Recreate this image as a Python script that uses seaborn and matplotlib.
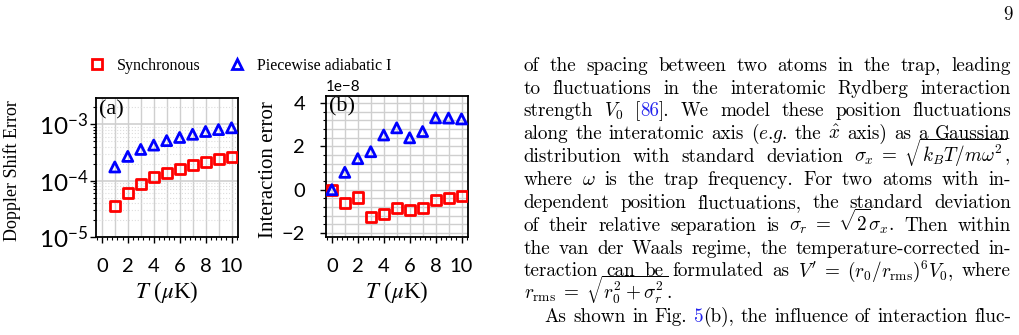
import numpy as np
import pandas as pd
import matplotlib
matplotlib.use("Agg")
import matplotlib.pyplot as plt
import matplotlib.ticker as mticker
from matplotlib.lines import Line2D
import seaborn as sns

# ---- data ----
methods = ["Synchronous", "Piecewise adiabatic I"]
colors = {"Synchronous": "#ff0000", "Piecewise adiabatic I": "#0000ff"}
markers = {"Synchronous": "s", "Piecewise adiabatic I": "^"}

T_a = [1, 2, 3, 4, 5, 6, 7, 8, 9, 10]
doppler_sync = [3.5e-5, 6.1e-5, 8.7e-5, 1.14e-4, 1.36e-4, 1.62e-4, 1.88e-4, 2.1e-4, 2.38e-4, 2.6e-4]
doppler_piece = [1.74e-4, 2.68e-4, 3.56e-4, 4.25e-4, 5.1e-4, 5.8e-4, 6.6e-4, 7.4e-4, 8.0e-4, 8.6e-4]

T_b = [0, 1, 2, 3, 4, 5, 6, 7, 8, 9, 10]
# interaction error in units of 1e-8
inter_sync = [0.0, -0.6, -0.36, -1.25, -1.12, -0.85, -0.92, -0.83, -0.46, -0.38, -0.31]
inter_piece = [0.0, 0.8, 1.43, 1.75, 2.52, 2.85, 2.39, 2.68, 3.31, 3.3, 3.26]

df_a = pd.DataFrame({
    "T": T_a + T_a,
    "err": doppler_sync + doppler_piece,
    "method": [methods[0]] * len(T_a) + [methods[1]] * len(T_a),
})
df_b = pd.DataFrame({
    "T": T_b + T_b,
    "err": list(np.array(inter_sync) * 1e-8) + list(np.array(inter_piece) * 1e-8),
    "method": [methods[0]] * len(T_b) + [methods[1]] * len(T_b),
})

W, H = 1019, 335
plt.rcParams["font.family"] = ["Lato", "DejaVu Sans"]
plt.rcParams["mathtext.fontset"] = "stix"
plt.rcParams["axes.unicode_minus"] = True

fig = plt.figure(figsize=(W / 100, H / 100), dpi=100)
ax_a = fig.add_axes([96 / W, 1 - 237 / H, 142 / W, 139 / H])
ax_b = fig.add_axes([326 / W, 1 - 237 / H, 142 / W, 141.5 / H])

serif = "Liberation Serif"
grid_c = "#cfcfcf"

for ax, df in [(ax_a, df_a), (ax_b, df_b)]:
    sns.scatterplot(data=df, x="T", y="err", hue="method", style="method",
                    palette=colors, markers=markers, s=52, linewidth=2,
                    legend=False, ax=ax, zorder=3)
    for coll in ax.collections:
        coll.set_edgecolors(coll.get_facecolors())
        coll.set_facecolor("none")
    for t in T_b:
        ax.axvline(t, color=grid_c, lw=1, zorder=0)
    ax.set_xlim(-0.45, 10.5)
    ax.xaxis.set_major_locator(mticker.MultipleLocator(2))
    ax.xaxis.set_minor_locator(mticker.AutoMinorLocator(5))
    ax.tick_params(which="major", length=4, width=1, labelsize=14.5)
    ax.tick_params(which="minor", length=2.2, width=0.8)
    ax.tick_params(axis="x", which="major", pad=11)
    for sp in ax.spines.values():
        sp.set_linewidth(1.3)
    ax.set_xlabel("$T$ ($\\mu$K)", family=serif, fontsize=16.5, math_fontfamily="stix")
    ax.xaxis.set_label_coords(0.5, -0.30)

# panel (a)
ax_a.set_yscale("log")
ax_a.set_ylim(1e-5, 2.9e-3)
ax_a.yaxis.set_major_locator(mticker.LogLocator(base=10, numticks=10))
ax_a.yaxis.set_minor_locator(mticker.LogLocator(base=10, subs=np.arange(2, 10), numticks=10))
ax_a.yaxis.set_minor_formatter(mticker.NullFormatter())
ax_a.tick_params(axis="y", which="major", labelsize=17.5, pad=1.5)
ax_a.grid(True, which="major", axis="y", color=grid_c, lw=1.2, zorder=0)
ax_a.grid(True, which="minor", axis="y", color="#dddddd", lw=0.8, ls=":", zorder=0)
ax_a.set_ylabel("Doppler Shift Error", family=serif, fontsize=13)
ax_a.yaxis.set_label_coords(-0.528, 0.48)
ax_a.text(0.02, 0.985, "(a)", transform=ax_a.transAxes, ha="left", va="top",
          family=serif, fontsize=16)

# panel (b)
ax_b.set_ylim(-2.18e-8, 4.34e-8)
ax_b.yaxis.set_major_locator(mticker.MultipleLocator(2e-8))
ax_b.yaxis.set_minor_locator(mticker.AutoMinorLocator(5))
ax_b.tick_params(axis="y", which="major", pad=11)
ax_b.grid(True, which="both", axis="y", color=grid_c, lw=1, zorder=0)
ax_b.yaxis.get_offset_text().set_fontsize(11)
ax_b.set_ylabel("Interaction error", family=serif, fontsize=15)
ax_b.yaxis.set_label_coords(-0.338, 0.48)
ax_b.text(0.02, 0.985, "(b)", transform=ax_b.transAxes, ha="left", va="top",
          family=serif, fontsize=16)

# shared legend on top
handles = [Line2D([], [], ls="", marker=markers[m], mfc="none", mec=colors[m],
                  mew=2, ms=7.5) for m in methods]
fig.legend(handles, methods, loc="center left", bbox_to_anchor=(89 / W, 1 - 66 / H),
           ncol=2, frameon=False, borderpad=0, borderaxespad=0, handlelength=1,
           handletextpad=0.75, columnspacing=1.8, prop={"family": serif, "size": 11.5})

# ---- body text of the page (justified word by word) ----
body_size = 13.8
body_kw = dict(family="cmr10", math_fontfamily="cm", fontsize=body_size,
               va="baseline", ha="left")
body_lines = [
    ("of the spacing between two atoms in the trap, leading", True, 0),
    ("to fluctuations in the interatomic Rydberg interaction", True, 0),
    ("strength $V_0$ [|86|]. We model these position fluctuations", True, 0),
    ("along the interatomic axis ($e$.$g$. the $\\hat{x}$ axis) as a Gaussian", True, 0),
    ("distribution with standard deviation $\\sigma_x\\;=\\;\\sqrt{k_BT/m\\omega^2}$,", True, 0),
    ("where $\\omega$ is the trap frequency. For two atoms with in-", True, 0),
    ("dependent position fluctuations, the standard deviation", True, 0),
    ("of their relative separation is $\\sigma_r\\;=\\;\\sqrt{2}\\sigma_x$. Then within", True, 0),
    ("the van der Waals regime, the temperature-corrected in-", True, 0),
    ("teraction can be formulated as $V'\\;=\\;(r_0/r_{\\mathrm{rms}})^6V_0$, where", True, 0),
    ("$r_{\\mathrm{rms}}\\;=\\;\\sqrt{r_0^2+\\sigma_r^2}$.", False, 0),
    ("As shown in Fig. |5|(b), the influence of interaction fluc-", True, 21),
]
x_left, x_right = 523.5, 1011.0
y0, dy = 70.8, 22.85

renderer = fig.canvas.get_renderer()

for i, (line, justify, indent) in enumerate(body_lines):
    y = y0 + i * dy
    groups = []
    for word in line.split():
        arts = []
        for k, part in enumerate(word.split("|")):
            if part == "":
                continue
            t = fig.text(0, 0, part, color="#2222ee" if k % 2 else "black", **body_kw)
            arts.append((t, t.get_window_extent(renderer).width))
        groups.append(arts)
    widths = [sum(w for _, w in g) for g in groups]
    x0 = x_left + indent
    if justify and len(groups) > 1:
        gap = (x_right - x0 - sum(widths)) / (len(groups) - 1)
    else:
        gap = 0
    x = x0
    for g, gw in zip(groups, widths):
        for t, w in g:
            t.set_position((x / W, 1 - y / H))
            x += w
        x += gap

fig.text(1007.5 / W, 1 - 20 / H, "9", family="cmr10", fontsize=body_size,
         ha="center", va="baseline")

fig.savefig("out.png", dpi=100)
